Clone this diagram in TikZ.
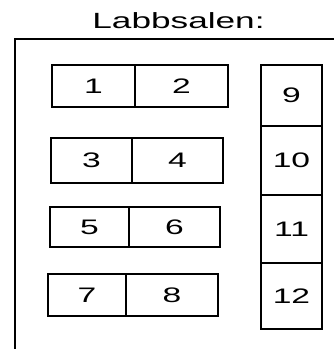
\documentclass[tikz,border=0pt]{standalone}
\usepackage{fontspec}
\setmainfont{Liberation Sans}
\newcommand{\wideText}[1]{\scalebox{1.6}[1]{#1}}
\begin{document}
\begin{tikzpicture}[x=1pt,y=-1pt,
  cell/.style={draw, line width=1.3pt, inner sep=0pt, font=\fontsize{21}{21}\selectfont},
  frameline/.style={line width=1.5pt}]
\useasboundingbox (0,0) rectangle (334,349);
\node[anchor=base, inner sep=0pt, font=\fontsize{22}{22}\selectfont] (title) at (178.5,28.5) {\wideText{Labbsalen:}};
\coordinate (fbl) at (15,349);
\coordinate (ftl) at (15,39);
\coordinate (ftr) at (334,39);
\draw[frameline] (fbl) -- (ftl) -- (ftr);
% rows
\node[cell, minimum width=83pt, minimum height=42pt] (c1) at (93.5,86) {\wideText{1}};
\node[cell, minimum width=93pt, minimum height=42pt] (c2) at (181.5,86) {\wideText{2}};
\node[cell, minimum width=81pt, minimum height=45pt] (c3) at (91.5,160.5) {\wideText{3}};
\node[cell, minimum width=91pt, minimum height=45pt] (c4) at (177.5,160.5) {\wideText{4}};
\node[cell, minimum width=79pt, minimum height=40pt] (c5) at (89.5,227) {\wideText{5}};
\node[cell, minimum width=91pt, minimum height=40pt] (c6) at (174.5,227) {\wideText{6}};
\node[cell, minimum width=78pt, minimum height=42pt] (c7) at (87,295) {\wideText{7}};
\node[cell, minimum width=92pt, minimum height=42pt] (c8) at (172,295) {\wideText{8}};
% column
\node[cell, minimum width=61pt, minimum height=61pt] (c9) at (291.5,95.5) {\wideText{9}};
\node[cell, minimum width=61pt, minimum height=69pt] (c10) at (291.5,160.5) {\wideText{10}};
\node[cell, minimum width=61pt, minimum height=68pt] (c11) at (291.5,229) {\wideText{11}};
\node[cell, minimum width=61pt, minimum height=66pt] (c12) at (291.5,296) {\wideText{12}};
\end{tikzpicture}
\end{document}
